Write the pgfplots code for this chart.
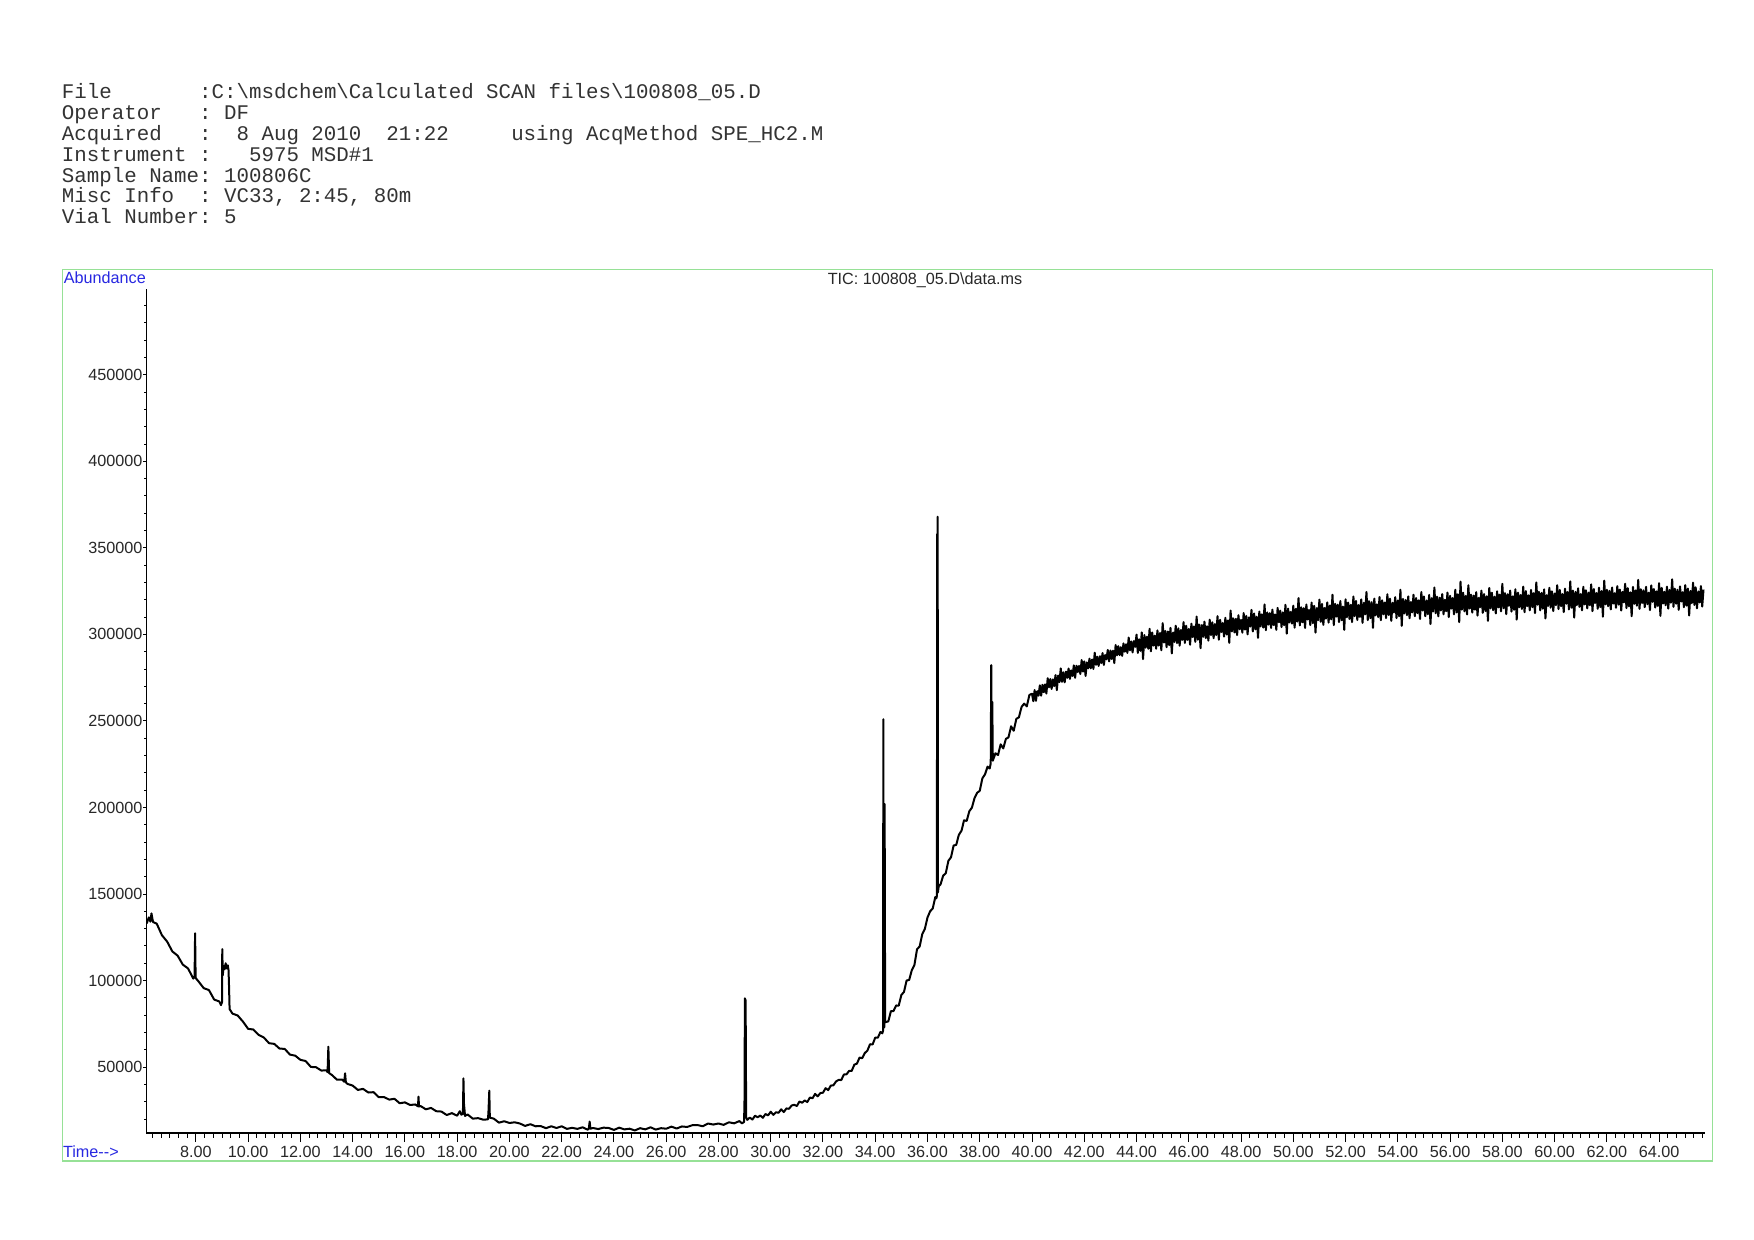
\documentclass[border=0pt]{standalone}
\usepackage{fontspec}
\setmainfont{Liberation Sans}
\newfontfamily\monofont{Liberation Mono}
\usepackage{pgfplots}
\pgfplotsset{compat=1.18}
\definecolor{framegreen}{RGB}{150,225,150}
\definecolor{labelblue}{RGB}{40,40,225}
\definecolor{ticktext}{RGB}{40,40,40}
\newcommand{\sz}{\fontsize{8.1}{9.7}\selectfont}
\frenchspacing

\begin{document}
\begin{tikzpicture}
% page = 1754 x 1240 px, 1 px = 0.5pt, origin at the axis corner
\useasboundingbox (-73.25pt,-53.4pt) rectangle (803.75pt,566.6pt);
\fill[white] (-73.25pt,-53.4pt) rectangle (803.75pt,566.6pt);

% header block
\begin{scope}[every node/.style={anchor=base west, inner sep=0pt, text=black!80,
    font=\monofont\fontsize{10.4}{10.4}\selectfont}]
\node at (-42.5pt,517.3pt) {File\ \ \ \ \ \ \ :C:\textbackslash msdchem\textbackslash Calculated\ SCAN\ files\textbackslash 100808\_05.D};
\node at (-42.5pt,506.86pt) {Operator\ \ \ :\ DF};
\node at (-42.5pt,496.42pt) {Acquired\ \ \ :\ \ 8\ Aug\ 2010\ \ 21:22\ \ \ \ \ using\ AcqMethod\ SPE\_HC2.M};
\node at (-42.5pt,485.98pt) {Instrument\ :\ \ \ 5975\ MSD\#1};
\node at (-42.5pt,475.54pt) {Sample\ Name:\ 100806C};
\node at (-42.5pt,465.1pt) {Misc\ Info\ \ :\ VC33,\ 2:45,\ 80m};
\node at (-42.5pt,454.66pt) {Vial\ Number:\ 5};
\end{scope}

% green frame
\draw[framegreen, line width=0.6pt] (-41.95pt,-13.95pt) rectangle (783.05pt,431.8pt);

\node[anchor=base west, inner sep=0pt, font=\sz, text=labelblue] at (-41.5pt,424.6pt) {Abundance};
\node[anchor=base, inner sep=0pt, font=\sz, text=ticktext] at (389.25pt,424.1pt) {TIC: 100808\_05.D\textbackslash data.ms};
\node[anchor=base west, inner sep=0pt, font=\sz, text=labelblue] at (-41.9pt,-12pt) {Time-{}->};

% x axis and the trace
\begin{axis}[
  at={(0pt,0pt)}, anchor=south west,
  scale only axis, width=779.15pt, height=422.3pt,
  xmin=6.11, xmax=65.75, ymin=11800, ymax=499800,
  axis x line*=bottom, hide y axis,
  axis line style={line width=0.8pt, black},
  tick align=outside,
  major tick length=4.5pt, minor tick length=2.3pt,
  every tick/.style={black, line width=0.5pt},
  xtick={8,10,...,64},
  minor xtick={6.33333,6.66667,...,65.7},
  xticklabel style={font=\sz, text=ticktext, anchor=north, inner sep=0pt, yshift=-1.6pt,
    /pgf/number format/.cd, fixed, fixed zerofill, precision=2, assume math mode=true},
]
\addplot[black, line width=1pt, mark=none, line join=round] coordinates {
(6.12,133000)(6.20,136500)(6.26,134000)(6.30,138800)(6.36,133800)(6.5,132900)(6.7,126200)(6.9,122500)(7.1,116800)(7.3,114400)(7.5,109200)(7.7,107000)(7.9,101100)
(7.95,102500)(7.97,127300)(7.99,101500)
(8.1,99500)(8.3,95600)(8.5,94500)(8.7,89000)(8.9,87900)(8.96,85800)
(9.0,87500)(9.01,118200)(9.03,103000)(9.06,108500)(9.1,106500)(9.14,110000)(9.18,107000)(9.22,108800)(9.25,106000)(9.27,96000)(9.29,83500)
(9.4,80900)(9.6,79800)(9.8,76300)(10.0,72100)(10.2,71700)(10.4,68600)(10.6,67100)(10.8,63800)(11.0,63400)(11.2,60700)(11.4,60500)(11.6,57200)(11.8,56600)(12.0,54200)(12.2,53500)(12.4,50100)(12.6,49900)(12.8,48000)(13.0,48100)
(13.04,47000)(13.07,61800)(13.1,46500)
(13.2,45500)(13.4,42700)(13.6,42800)
(13.68,41500)(13.71,46400)(13.74,41200)
(13.8,40300)(14.0,39300)(14.2,36800)(14.4,37400)(14.6,35300)(14.8,35500)(15.0,32600)(15.2,32700)(15.4,31200)(15.6,31700)(15.8,29100)(16.0,29600)(16.2,28100)(16.4,28400)
(16.5,27300)(16.52,32900)(16.54,27200)
(16.6,27500)(16.8,25600)(17.0,26400)(17.2,24500)(17.4,24300)(17.6,22300)(17.8,23400)(18.0,21900)
(18.1,24500)(18.16,22500)(18.22,23000)(18.24,43500)(18.26,29000)(18.3,21800)
(18.4,22600)(18.6,20200)(18.8,20500)(19.0,19600)
(19.18,19800)(19.2,25000)(19.23,36400)(19.25,20800)
(19.4,20200)(19.6,17900)(19.8,18700)(20.0,17700)(20.2,18100)(20.4,17400)(20.6,16000)(20.8,17000)(21.0,15800)(21.2,15900)(21.4,14700)(21.6,15800)(21.8,14800)(22.0,15800)(22.2,14300)(22.4,14900)(22.6,14300)(22.8,15200)(23.0,13800)
(23.04,14600)(23.07,18500)(23.1,14400)
(23.2,14800)(23.4,14200)(23.6,15000)(23.8,14800)(24.0,13700)(24.2,15000)(24.4,14000)(24.6,14400)(24.8,13400)(25.0,14700)(25.2,14000)(25.4,15200)(25.6,13900)(25.8,14700)(26.0,14400)(26.2,15600)(26.4,14500)(26.6,15700)(26.8,15400)(27.0,16400)(27.2,16500)(27.4,15800)(27.6,17400)(27.8,16800)(28.0,17400)(28.2,16600)(28.4,18100)(28.6,17500)(28.8,18800)(28.9,17500)
(28.98,18300)(29.0,33000)(29.01,89700)(29.04,88500)(29.06,21000)(29.1,19500)
(29.2,20800)(29.3,19700)(29.4,21900)(29.5,21000)(29.6,22000)(29.7,20700)(29.8,22900)(29.9,22100)(30.0,24200)(30.1,22400)(30.2,23900)(30.3,23600)(30.4,25600)(30.5,24000)(30.6,26100)(30.7,25900)(30.8,27800)(30.9,28200)(31.0,27500)(31.1,30100)(31.2,29400)(31.3,30700)(31.4,29800)(31.5,32400)(31.6,32000)(31.7,34500)(31.8,33100)(31.9,35000)(32.0,35200)(32.1,37800)(32.2,36700)(32.3,39300)(32.4,39500)(32.5,41700)(32.6,42600)(32.7,42500)(32.8,45700)(32.9,45800)(33.0,47800)(33.1,47800)(33.2,51400)(33.3,52000)(33.4,55500)(33.5,55100)(33.6,58100)(33.7,59500)(33.8,63200)(33.9,63100)(34.0,67000)(34.1,67000)(34.2,70300)
(34.27,69500)(34.3,71000)(34.31,251000)(34.33,74000)(34.35,73000)(34.36,202000)(34.38,76000)
(34.4,76000)(34.5,76400)(34.6,82300)(34.7,82400)(34.8,85600)(34.9,85500)(35.0,91700)(35.1,93400)(35.2,100000)(35.3,100400)(35.4,106000)(35.5,109000)(35.6,118100)(35.7,119700)(35.8,126800)(35.9,129900)(36.0,136400)(36.1,140000)(36.2,141600)(36.3,148300)
(36.34,147500)(36.36,149000)(36.37,358000)(36.38,150500)(36.39,368000)(36.40,151000)(36.43,154500)
(36.5,155600)(36.6,160600)(36.7,162000)(36.8,169200)(36.9,171200)(37.0,178000)(37.1,178400)(37.2,184200)(37.3,186500)(37.4,192600)(37.5,192200)(37.6,197800)(37.7,199900)(37.8,205400)(37.9,208500)(38.0,209600)(38.1,216800)(38.2,219100)(38.3,223600)(38.38,222500)
(38.42,225500)(38.44,282300)(38.46,228000)(38.48,261000)(38.50,227000)
(38.6,231300)(38.7,230300)(38.8,236500)(38.9,234100)(39.0,239600)(39.1,240500)(39.2,246900)(39.3,244300)(39.4,251200)(39.5,252100)(39.6,258100)(39.7,260000)(39.8,258400)(39.9,265000)
(40.0,265700)(40.05,261400)(40.1,267800)(40.15,261600)(40.2,267200)(40.25,264600)(40.3,270600)(40.35,264600)(40.4,270900)(40.45,266600)(40.5,271100)(40.55,265800)(40.6,274700)(40.65,269400)(40.7,274200)(40.75,268500)(40.8,274000)(40.85,270100)(40.9,276500)(40.95,267800)
(41.0,276200)(41.05,272400)(41.1,280300)(41.15,272600)(41.2,278100)(41.25,272300)(41.3,278500)(41.35,274900)(41.4,280300)(41.45,274300)(41.5,279200)(41.55,276000)(41.6,282100)(41.65,274900)(41.7,281900)(41.75,278200)(41.8,281800)(41.85,277100)(41.9,285200)(41.95,278500)
(42.0,284400)(42.05,276000)(42.1,283800)(42.15,280400)(42.2,286000)(42.25,280400)(42.3,285500)(42.35,280000)(42.4,289400)(42.45,282400)(42.5,287100)(42.55,281800)(42.6,287400)(42.65,283400)(42.7,289200)(42.75,282300)(42.8,288100)(42.85,285600)(42.9,291000)(42.95,284400)
(43.0,290700)(43.05,285800)(43.1,290600)(43.15,283400)(43.2,293900)(43.25,287900)(43.3,293200)(43.35,288000)(43.4,292600)(43.45,287600)(43.5,294800)(43.55,290000)(43.6,294300)(43.65,289300)(43.7,298200)(43.75,290800)(43.8,295900)(43.85,289600)(43.9,296100)(43.95,292800)
(44.0,299900)(44.05,289300)(44.1,297200)(44.15,290500)(44.2,301100)(44.25,285700)(44.3,299600)(44.35,292300)(44.4,298700)(44.45,291700)(44.5,303200)(44.55,290200)(44.6,301100)(44.65,293500)(44.7,299300)(44.75,291700)(44.8,302300)(44.85,293500)(44.9,300800)(44.95,290800)
(45.0,306500)(45.05,295300)(45.1,302000)(45.15,292600)(45.2,301700)(45.25,293800)(45.3,303800)(45.35,289000)(45.4,301100)(45.45,295600)(45.5,305000)(45.55,295000)(45.6,303500)(45.65,293500)(45.7,302600)(45.75,296800)(45.8,307100)(45.85,295000)(45.9,305000)(45.95,296800)
(46.0,303200)(46.05,294000)(46.1,306200)(46.15,298500)(46.2,304600)(46.25,295700)(46.3,310300)(46.35,296900)(46.4,305700)(46.45,292000)(46.5,305400)(46.55,298600)(46.6,307400)(46.65,297900)(46.7,304700)(46.75,296400)(46.8,308500)(46.85,299600)(46.9,307000)(46.95,297800)
(47.0,306000)(47.05,299600)(47.1,310500)(47.15,296900)(47.2,308400)(47.25,301400)(47.3,306600)(47.35,298700)(47.4,309600)(47.45,299900)(47.5,308100)(47.55,295100)(47.6,313800)(47.65,301700)(47.7,309300)(47.75,301100)(47.8,309000)(47.85,299600)(47.9,311100)(47.95,302900)
(48.0,308400)(48.05,301000)(48.1,312300)(48.15,302800)(48.2,310700)(48.25,300000)(48.3,309800)(48.35,304500)(48.4,314200)(48.45,301700)(48.5,312100)(48.55,302900)(48.6,310200)(48.65,298000)(48.7,313200)(48.75,304600)(48.8,311600)(48.85,303900)(48.9,317300)(48.95,302400)
(49.0,312700)(49.05,305600)(49.1,312300)(49.15,303700)(49.2,314300)(49.25,305400)(49.3,311500)(49.35,302600)(49.4,315300)(49.45,307000)(49.5,313700)(49.55,304200)(49.6,312700)(49.65,305300)(49.7,317100)(49.75,300400)(49.8,314900)(49.85,306900)(49.9,313000)(49.95,306200)
(50.0,316600)(50.05,303900)(50.1,314800)(50.15,307400)(50.2,321000)(50.25,305200)(50.3,315700)(50.35,307000)(50.4,315200)(50.45,303700)(50.5,317300)(50.55,308600)(50.6,314100)(50.65,305400)(50.7,318400)(50.75,306500)(50.8,316500)(50.85,301000)(50.9,315200)(50.95,308200)
(51.0,320100)(51.05,307300)(51.1,317600)(51.15,305500)(51.2,315300)(51.25,309100)(51.3,318500)(51.35,306800)(51.4,316700)(51.45,308700)(51.5,322900)(51.55,305400)(51.6,317700)(51.65,310300)(51.7,317200)(51.75,307100)(51.8,319300)(51.85,308200)(51.9,316100)(51.95,302600)
(52.0,320300)(52.05,309900)(52.1,318400)(52.15,308900)(52.2,317100)(52.25,307100)(52.3,321900)(52.35,310500)(52.4,319300)(52.45,308300)(52.5,317000)(52.55,310100)(52.6,320200)(52.65,306700)(52.7,318300)(52.75,311600)(52.8,324500)(52.85,308300)(52.9,319200)(52.95,309400)
(53.0,318600)(53.05,303800)(53.1,320700)(53.15,311000)(53.2,317400)(53.25,310000)(53.3,321600)(53.35,308200)(53.4,319700)(53.45,311600)(53.5,318400)(53.55,309400)(53.6,323200)(53.65,311200)(53.7,320600)(53.75,307800)(53.8,318300)(53.85,312700)(53.9,321500)(53.95,309400)
(54.0,319600)(54.05,310500)(54.1,325800)(54.15,304900)(54.2,320500)(54.25,312100)(54.3,319900)(54.35,311100)(54.4,322000)(54.45,309300)(54.5,318700)(54.55,312700)(54.6,322900)(54.65,310500)(54.7,321000)(54.75,312300)(54.8,319700)(54.85,308900)(54.9,324500)(54.95,313800)
(55.0,321900)(55.05,310500)(55.1,319600)(55.15,311600)(55.2,322800)(55.25,306000)(55.3,320900)(55.35,313200)(55.4,327100)(55.45,312200)(55.5,321800)(55.55,310400)(55.6,321200)(55.65,313800)(55.7,323300)(55.75,311600)(55.8,320000)(55.85,313400)(55.9,324200)(55.95,310000)
(56.0,322300)(56.05,314900)(56.1,321000)(56.15,311600)(56.2,325800)(56.25,312700)(56.3,323200)(56.35,307100)(56.4,330500)(56.45,314300)(56.5,324100)(56.55,313300)(56.6,322200)(56.65,311500)(56.7,328400)(56.75,314900)(56.8,323000)(56.85,312600)(56.9,322400)(56.95,314300)
(57.0,324400)(57.05,310900)(57.1,321100)(57.15,315700)(57.2,325300)(57.25,312400)(57.3,323300)(57.35,313500)(57.4,322000)(57.45,307800)(57.5,326800)(57.55,315000)(57.6,324100)(57.65,314000)(57.7,321800)(57.75,312100)(57.8,324900)(57.85,315600)(57.9,323000)(57.95,313300)
(58.0,329200)(58.05,315100)(58.1,323800)(58.15,311700)(58.2,323200)(58.25,316500)(58.3,325300)(58.35,313200)(58.4,322000)(58.45,314200)(58.5,326100)(58.55,308500)(58.6,324100)(58.65,315700)(58.7,322800)(58.75,314700)(58.8,327600)(58.85,312800)(58.9,325000)(58.95,316300)
(59.0,322600)(59.05,313900)(59.1,325700)(59.15,315700)(59.2,323800)(59.25,312300)(59.3,330000)(59.35,317100)(59.4,324600)(59.45,313900)(59.5,324000)(59.55,314800)(59.6,326000)(59.65,309200)(59.7,322700)(59.75,316400)(59.8,326900)(59.85,315400)(59.9,324900)(59.95,313500)
(60.0,323600)(60.05,316900)(60.1,328400)(60.15,314600)(60.2,325700)(60.25,316300)(60.3,323300)(60.35,312900)(60.4,326400)(60.45,317700)(60.5,324500)(60.55,314400)(60.6,330600)(60.65,315400)(60.7,325300)(60.75,309700)(60.8,324600)(60.85,316900)(60.9,326600)(60.95,315900)
(61.0,323300)(61.05,313900)(61.1,327500)(61.15,317300)(61.2,325500)(61.25,315000)(61.3,324100)(61.35,316800)(61.4,328900)(61.45,313400)(61.5,326200)(61.55,318100)(61.6,323900)(61.65,314800)(61.7,327000)(61.75,315800)(61.8,325000)(61.85,310200)(61.9,331100)(61.95,317300)
(62.0,325800)(62.05,316300)(62.1,325200)(62.15,314400)(62.2,327100)(62.25,317800)(62.3,323800)(62.35,315400)(62.4,327900)(62.45,317200)(62.5,325900)(62.55,313800)(62.6,324600)(62.65,318500)(62.7,329300)(62.75,315200)(62.8,326700)(62.85,316200)(62.9,324300)(62.95,310500)
(63.0,327400)(63.05,317600)(63.1,325400)(63.15,316600)(63.2,331500)(63.25,314700)(63.3,326100)(63.35,318100)(63.4,325500)(63.45,315700)(63.5,327500)(63.55,317400)(63.6,324100)(63.65,314000)(63.7,328300)(63.75,318800)(63.8,326200)(63.85,315500)(63.9,324900)(63.95,316400)
(64.0,329600)(64.05,310700)(64.1,326900)(64.15,317800)(64.2,324600)(64.25,316800)(64.3,327600)(64.35,314900)(64.4,325700)(64.45,318300)(64.5,331800)(64.55,315900)(64.6,326400)(64.65,317700)(64.7,325800)(64.75,314200)(64.8,327700)(64.85,319000)(64.9,324400)(64.95,315700)
(65.0,328500)(65.05,316600)(65.1,326500)(65.15,310900)(65.2,325100)(65.25,318100)(65.3,329900)(65.35,317000)(65.4,327200)(65.45,315100)(65.5,324800)(65.55,318500)(65.6,327900)(65.65,316100)(65.7,325900)
};
\end{axis}

% y axis with its own, shorter ticks
\begin{axis}[
  at={(0pt,0pt)}, anchor=south west,
  scale only axis, width=779.15pt, height=422.3pt,
  xmin=6.11, xmax=65.75, ymin=11800, ymax=499800,
  hide x axis, axis y line*=left,
  axis line style={line width=0.8pt, black},
  tick align=outside,
  major tick length=1.6pt, minor tick length=1.1pt,
  every tick/.style={black, line width=0.5pt},
  ytick={50000,100000,...,450000},
  minor ytick={20000,30000,...,490000},
  scaled y ticks=false,
  yticklabel style={font=\sz, text=ticktext, anchor=east, inner sep=0pt, xshift=-0.2pt,
    /pgf/number format/.cd, fixed, 1000 sep={}, assume math mode=true},
]
\end{axis}
\end{tikzpicture}
\end{document}
